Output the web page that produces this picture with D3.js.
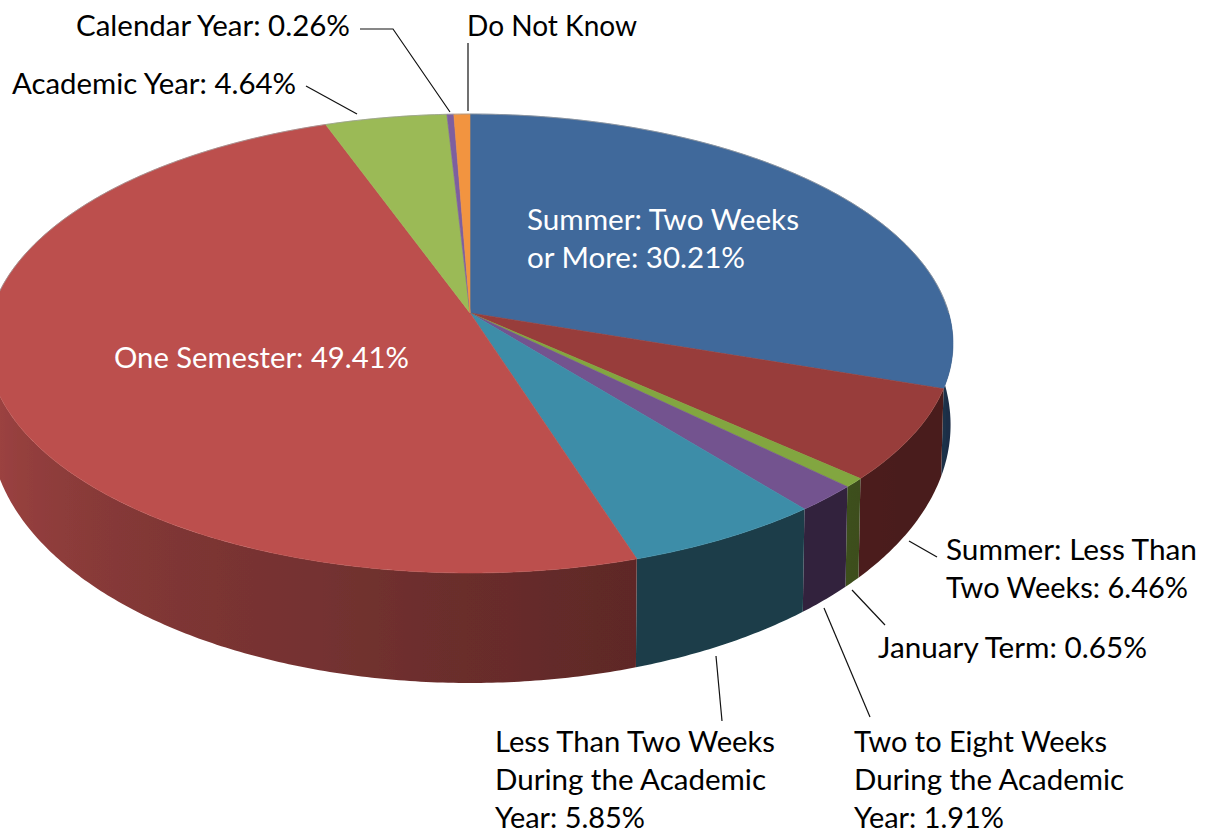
<!DOCTYPE html>
<html><head><meta charset="utf-8">
<style>html,body{margin:0;padding:0;background:#fff;overflow:hidden}svg{display:block}</style>
<script src="https://cdn.jsdelivr.net/npm/d3@7/dist/d3.min.js"></script>
</head><body><svg id="c" width="1215" height="834"></svg>
<script>
// ---- data ----
const categories = ["Summer: Two Weeks or More","Summer: Less Than Two Weeks","January Term","Two to Eight Weeks During the Academic Year","Less Than Two Weeks During the Academic Year","One Semester","Academic Year","Calendar Year","Do Not Know"];
const values = [30.21,6.46,0.65,1.91,5.85,49.41,4.64,0.26,0.61];
const colors = ["#41699b","#983e3a","#82a63f","#73538f","#3d8da8","#bc504e","#9bba56","#7d5f9f","#f29440"];
const labelLines = [
  ["Summer: Two Weeks","or More: 30.21%"],
  ["Summer: Less Than","Two Weeks: 6.46%"],
  ["January Term: 0.65%"],
  ["Two to Eight Weeks","During the Academic","Year: 1.91%"],
  ["Less Than Two Weeks","During the Academic","Year: 5.85%"],
  ["One Semester: 49.41%"],
  ["Academic Year: 4.64%"],
  ["Calendar Year: 0.26%"],
  ["Do Not Know"]
];
// ---- layout (not data) ----
const labelPos = [[527,230,"#fff"],[946,560,"#000"],[878,658,"#000"],[854,752,"#000"],[495,752,"#000"],[114,368,"#fff"],[12,94,"#000"],[76,36,"#000"],[467,36,"#000"]];
const labelWidths = [[272,218],[251,242],[269],[253,270,150],[280,271,150],[295],[284],[274],[170]];
const sideTone = [1,1,.95,.85,.86,1,1,1,1];
const leaders = [
 [[909,541],[937,557]],[[852,590],[885,625]],[[824,608],[870,717]],[[716,656],[722,721]],
 [[306,86],[357,114]],[[360,29],[393,29],[450,112]],[[468,43],[468,111]]
];
const cx=470, cy=313, persp=.133, ky=225.4, kx=478.7, depth=110;

const svg=d3.select("#c");
const defs=svg.append("defs");
defs.append("filter").attr("id","soft").attr("x","-5%").attr("y","-5%").attr("width","110%").attr("height","110%")
  .append("feGaussianBlur").attr("stdDeviation",.6);
const pie=d3.pie().sort(null).value(d=>d)(values);
const toDeg=d3.scaleLinear().domain([0,2*Math.PI]).range([0,360]);
const shade=d3.scaleLinear().domain([97,135,162,215,262]).range([.46,.5,.5,.68,.88]);

function topPt(a){const u=Math.sin(a),v=-Math.cos(a),w=1-persp*v;return [cx+kx*u/w,cy+ky*v/w];}
function bottomPt(a){const u=Math.sin(a),v=-Math.cos(a),w=1-persp*v;
  return [cx+.995*kx*u/w, cy+ky*v/w+depth*(.7+.3*v)];}
function samples(a0,a1,step){const n=Math.max(1,Math.ceil((a1-a0)/step));return d3.range(n+1).map(i=>a0+(a1-a0)*i/n);}
const line=d3.line();
const pieG=svg.append("g").attr("filter","url(#soft)");

// side wall: one polygon per slice, shaded along x with a gradient
const vis0=Math.PI*88/180, vis1=Math.PI*272/180;
const gSide=pieG.append("g");
pie.forEach((s,i)=>{
  const a0=Math.max(s.startAngle,vis0), a1=Math.min(s.endAngle,vis1);
  if(a1<=a0) return;
  const x0=topPt(a0)[0], x1=topPt(a1)[0];
  const gr=defs.append("linearGradient").attr("id","side"+i).attr("gradientUnits","userSpaceOnUse")
    .attr("x1",x0).attr("x2",x1).attr("y1",0).attr("y2",0);
  const c=d3.rgb(colors[i]);
  samples(a0,a1,.08).forEach(a=>{
    const f=shade(toDeg(a))*sideTone[i];
    gr.append("stop").attr("offset",x1===x0?0:(topPt(a)[0]-x0)/(x1-x0))
      .attr("stop-color",d3.rgb(c.r*f,c.g*f,c.b*f).formatHex());
  });
  const t=samples(a0,a1,.01);
  const poly=t.map(topPt).concat(t.slice().reverse().map(bottomPt));
  gSide.append("path").attr("d",line(poly)+"Z").attr("fill",`url(#side${i})`);
});

// top face
const gTop=pieG.append("g");
pie.forEach((s,i)=>{
  const pts=[[cx,cy]].concat(samples(s.startAngle,s.endAngle,.01).map(topPt));
  gTop.append("path").attr("d",line(pts)+"Z").attr("fill",colors[i]).attr("stroke",colors[i]).attr("stroke-width",.6);
});
// faint rim along the far edge
pieG.append("path").attr("d",line(samples(-Math.PI*.5,Math.PI*.5,.01).map(topPt)))
  .attr("fill","none").attr("stroke","#9a9a9a").attr("stroke-opacity",.7).attr("stroke-width",1);

// leader lines
svg.append("g").selectAll("path").data(leaders).join("path")
  .attr("d",d=>line(d)).attr("fill","none").attr("stroke","#111").attr("stroke-width",1.2);

// labels
const gText=svg.append("g").attr("font-family","Lato, 'Open Sans', sans-serif").attr("font-size",28.5);
labelLines.forEach((ls,i)=>{
  const [x,y,col]=labelPos[i];
  ls.forEach((t,j)=>gText.append("text").attr("x",x).attr("y",y+j*38).attr("fill",col)
    .attr("textLength",labelWidths[i][j]).attr("lengthAdjust","spacingAndGlyphs").text(t));
});
</script></body></html>
